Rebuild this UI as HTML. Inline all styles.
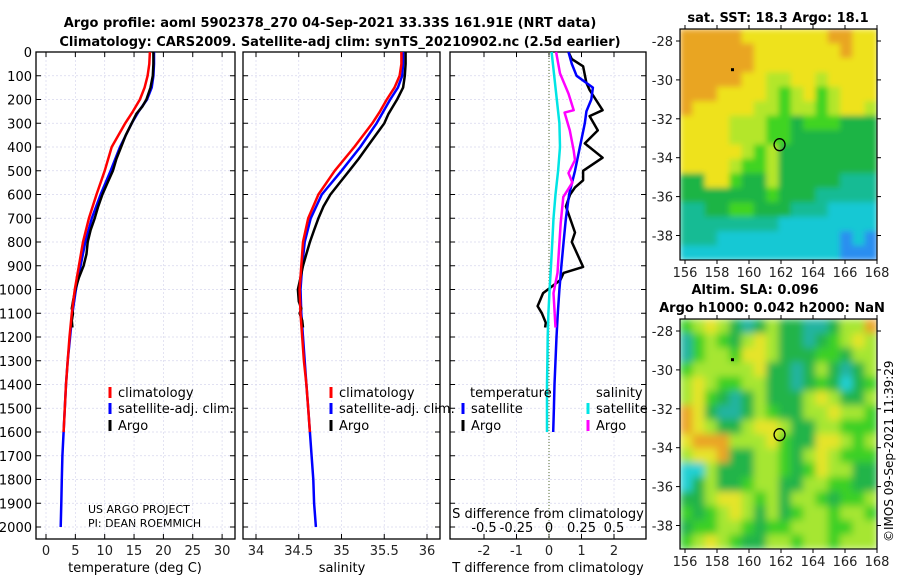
<!DOCTYPE html>
<html><head><meta charset="utf-8"><style>
html,body{margin:0;padding:0;background:#fff;}
svg{display:block;font-family:"DejaVu Sans","Liberation Sans",sans-serif;}
</style></head><body>
<svg id="s" width="900" height="580" xmlns="http://www.w3.org/2000/svg">
<defs>
<filter id="blur1" x="-5%" y="-5%" width="110%" height="110%"><feGaussianBlur stdDeviation="3" edgeMode="duplicate"/></filter>
<filter id="blur2" x="-5%" y="-5%" width="110%" height="110%"><feGaussianBlur stdDeviation="4" edgeMode="duplicate"/></filter>
<clipPath id="clip1"><rect x="680" y="29" width="197" height="231"/></clipPath>
<clipPath id="clip2"><rect x="680" y="319" width="197" height="230"/></clipPath>
</defs>
<text x="330" y="27" text-anchor="middle" font-size="13" font-weight="bold">Argo profile: aoml 5902378_270 04-Sep-2021 33.33S 161.91E (NRT data)</text>
<text x="340" y="46" text-anchor="middle" font-size="13" font-weight="bold">Climatology: CARS2009. Satellite-adj clim: synTS_20210902.nc (2.5d earlier)</text>
<text x="778" y="22" text-anchor="middle" font-size="13" font-weight="bold">sat. SST: 18.3 Argo: 18.1</text>
<text x="755" y="294" text-anchor="middle" font-size="13" font-weight="bold">Altim. SLA: 0.096</text>
<text x="772" y="312" text-anchor="middle" font-size="13" font-weight="bold">Argo h1000: 0.042 h2000: NaN</text>
<text transform="translate(893,542) rotate(-90)" font-size="12">©IMOS 09-Sep-2021 11:39:29</text>
<text x="88" y="513" font-size="11">US ARGO PROJECT</text>
<text x="88" y="527" font-size="11">PI: DEAN ROEMMICH</text>
</svg>
<script>
// ---- data ----
const depths = [0,50,100,150,200,250,300,400,500,600,700,800,900,1000,1100,1200,1300,1400,1500,1600,1700,1800,1900,2000];
const tClim = [17.7,17.6,17.3,16.8,16.0,14.8,13.5,11.2,10.0,8.6,7.3,6.3,5.6,4.9,4.4,4.0,3.7,3.4,3.2,3.0];
const tSat = [18.4,18.4,18.3,18.0,17.2,15.8,14.6,12.6,11.0,9.3,7.8,6.7,5.9,5.1,4.5,4.1,3.7,3.4,3.2,3.0,2.8,2.7,2.6,2.5];
const argoDepths = [0,50,100,150,200,230,260,300,350,400,450,500,550,600,650,700,750,800,850,900,950,1000,1050,1080,1100,1130,1160];
const tArgo = [18.3,18.3,18.2,17.8,17.1,16.4,15.4,14.6,13.6,12.8,12.0,11.4,10.5,9.6,8.9,8.3,7.6,7.1,6.9,6.4,5.6,5.0,4.6,4.4,4.6,4.4,4.5];
const sClim = [35.70,35.70,35.68,35.62,35.53,35.45,35.36,35.15,34.92,34.73,34.61,34.55,34.53,34.51,34.52,34.54,34.56,34.59,34.61,34.63];
const sSat = [35.72,35.72,35.71,35.66,35.57,35.49,35.41,35.22,35.0,34.77,34.64,34.57,34.54,34.52,34.53,34.55,34.57,34.59,34.61,34.63,34.65,34.67,34.68,34.70];
const sArgo = [35.75,35.75,35.74,35.72,35.65,35.6,35.55,35.5,35.4,35.3,35.2,35.09,34.98,34.87,34.79,34.73,34.68,34.63,34.59,34.55,34.52,34.49,34.50,34.53,34.51,34.54,34.55];
const dTSat = [0.6,0.7,0.85,1.35,1.3,1.15,1.1,0.95,0.8,0.62,0.52,0.45,0.38,0.32,0.27,0.23,0.2,0.17,0.15,0.13];
const dSSat = [0.02,0.03,0.04,0.05,0.06,0.07,0.08,0.085,0.07,0.05,0.035,0.025,0.015,0.005,-0.005,-0.01,-0.012,-0.015,-0.015,-0.015];
const dTArgoDepths = [0,30,60,130,160,245,270,330,385,445,500,540,570,600,650,760,800,905,930,960,1015,1070,1100,1140,1160];
const dTArgo = [0.6,0.7,1.05,1.15,1.25,1.65,1.25,1.5,1.1,1.65,1.05,1.05,0.8,0.65,0.52,0.8,0.7,1.05,0.45,0.35,-0.18,-0.35,-0.22,-0.1,-0.12];
const dSArgoDepths = [0,90,175,245,255,330,415,455,510,550,610,720,930,1015,1160];
const dSArgo = [0.055,0.085,0.15,0.19,0.12,0.16,0.19,0.2,0.15,0.18,0.11,0.09,0.065,0.035,0.05];
const depthTicks = [0,100,200,300,400,500,600,700,800,900,1000,1100,1200,1300,1400,1500,1600,1700,1800,1900,2000];
const tTicks = [0,5,10,15,20,25,30];
const sTicks = [34,34.5,35,35.5,36];
const sTickLabels = ['34','34.5','35','35.5','36'];
const dtTicks = [-2,-1,0,1,2];
const dsTicks = [-0.5,-0.25,0,0.25,0.5];
const dsTickLabels = ['-0.5','-0.25','0','0.25','0.5'];
const lonTicks = [156,158,160,162,164,166,168];
const latTicks = [-28,-30,-32,-34,-36,-38];
const sstGrid = [
"OOOOOYYYYYYYOOYY","OOOOOOYYYYYYYOYY","OOOOOOYYYYYYYYYY","OOOOOYYLLYYLYYYY",
"OOOYYYYLGLYGLYYY","OYYYYYLLGLLGLYYL","YYYYLLLGGDGGGDDD","YYYYLLLGGDDDDDDD",
"YYYYYLGLDDDDDDDD","YYYYLGGLDDDDDDDD","DDYYGDDLDDDDDTTT","DDDDDDDGDDDTTTTT",
"TTDDGGDDDTTTCCCC","TTTTTTTTCCCCCCCC","TTTCCCCCCCCCCBCB","CCCCCCCCCCCCCBBB"];
const slaGrid = [
"GLYLDTDLDDTTDLLO","TGLGDLYLDDTDGLYL","TGLLGYYLDDDGGDLL","GLLLLLYDDTDLDTDL",
"LYLGGLLDDTDGDCDG","LYGDTDLDDDLYLDDL","OYDTTDLGDDLLYLLG","OYLDDLYYLDDLLGGG",
"YOOOLLLYGDDYYLGL","LYYODDLLGDLYLGGG","CCLDDDLLGDGYLLDD","CDLDDGLLDDLLGGDD",
"DDLYYLGLDLLGDGGL","GDGLYLDLDGLLGLLG","DGGLLGDGGLLLGGLL","GLYLGDDLLGLLGLLL"];

// ---- helpers ----
const NS='http://www.w3.org/2000/svg';
const svg=document.getElementById('s');
function mk(tag,attrs,parent){const e=document.createElementNS(NS,tag);for(const k in attrs)e.setAttribute(k,attrs[k]);(parent||svg).appendChild(e);return e;}
const Y0=52, YS=0.2375;
function yD(d){return Y0+d*YS;}
const TOP=52, BOT=539;

const panels=[
 {name:'temperature-panel',l:36,r:235,x:v=>46+v*5.87,ticks:tTicks,labels:tTicks.map(String),xlabel:'temperature (deg C)',lx:135},
 {name:'salinity-panel',l:243,r:440,x:v=>256+(v-34)*85.5,ticks:sTicks,labels:sTickLabels,xlabel:'salinity',lx:342},
 {name:'difference-panel',l:450,r:646,x:v=>549+v*32.5,ticks:dtTicks,labels:dtTicks.map(String),xlabel:'T difference from climatology',lx:548}
];
panels.forEach((p,pi)=>{
  const g=mk('g',{});
  
  
  depthTicks.forEach(d=>{
    const ln=mk('line',{x1:p.l,x2:p.r,y1:yD(d),y2:yD(d),stroke:'#d8d8ee','stroke-width':0.7,'stroke-dasharray':'2,2'},g);
    
    
    mk('line',{x1:p.l,x2:p.l+5,y1:yD(d),y2:yD(d),stroke:'#000'},g);
    mk('line',{x1:p.r,x2:p.r-5,y1:yD(d),y2:yD(d),stroke:'#000'},g);
    if(pi===0){const t=mk('text',{x:32,y:yD(d)+5,'text-anchor':'end','font-size':13},g);t.textContent=d;
      
      }
  });
  p.ticks.forEach((v,i)=>{
    const x=p.x(v);
    const ln=mk('line',{x1:x,x2:x,y1:TOP,y2:BOT,stroke:'#d8d8ee','stroke-width':0.7,'stroke-dasharray':'2,2'},g);
    
    
    mk('line',{x1:x,x2:x,y1:BOT,y2:BOT-5,stroke:'#000'},g);
    mk('line',{x1:x,x2:x,y1:TOP,y2:TOP+5,stroke:'#000'},g);
    const t=mk('text',{x:x,y:555,'text-anchor':'middle','font-size':13,fill:'#222'},g);t.textContent=p.labels[i];
    
    
  });
  const xl=mk('text',{x:p.lx,y:572,'text-anchor':'middle','font-size':13},g);xl.textContent=p.xlabel;
  
  
  const fr=mk('rect',{x:p.l,y:TOP,width:p.r-p.l,height:BOT-TOP,fill:'none',stroke:'#000','stroke-width':1.3},g);
  
  
});
const sdx=v=>549+v*130;
dsTicks.forEach((v,i)=>{const t=mk('text',{x:sdx(v),y:532,'text-anchor':'middle','font-size':13},svg);t.textContent=dsTickLabels[i];
  
  });
{const t=mk('text',{x:548,y:518,'text-anchor':'middle','font-size':13});t.textContent='S difference from climatology';
 
 }
{const z=mk('line',{x1:549,x2:549,y1:TOP,y2:BOT,stroke:'#556b2f','stroke-width':1,'stroke-dasharray':'1,2'});
 
 }

function line(xs,ds,xf,color,name){
  const pts=xs.map((v,i)=>xf(v).toFixed(1)+','+yD(ds[i]).toFixed(1)).join(' ');
  const pl=mk('polyline',{points:pts,fill:'none',stroke:color,'stroke-width':2.5,'stroke-linejoin':'round'});
  
  
}
const tx=panels[0].x, sx=panels[1].x, dx=panels[2].x;
line(tSat,depths,tx,'#0000ff','temp-satellite-line');
line(tArgo,argoDepths,tx,'#000','temp-argo-line');
line(tClim,depths,tx,'#ff0000','temp-climatology-line');
line(sSat,depths,sx,'#0000ff','salinity-satellite-line');
line(sArgo,argoDepths,sx,'#000','salinity-argo-line');
line(sClim,depths,sx,'#ff0000','salinity-climatology-line');
line(dTArgo,dTArgoDepths,dx,'#000','tdiff-argo-line');
line(dTSat,depths,dx,'#0000ff','tdiff-satellite-line');
line(dSArgo,dSArgoDepths,sdx,'#ff00ff','sdiff-argo-line');
line(dSSat,depths,sdx,'#00e5e5','sdiff-satellite-line');

function legend(x,y,color,label,name){
  const g=mk('g',{});
  
  
  mk('rect',{x:x-1.5,y:y-9,width:3,height:11,fill:color},g);
  const t=mk('text',{x:x+8,y:y+1,'font-size':13},g);t.textContent=label;
}
legend(110,396,'#ff0000','climatology','legend-climatology');
legend(110,412,'#0000ff','satellite-adj. clim.','legend-satellite');
legend(110,429,'#000','Argo','legend-argo');
legend(331,396,'#ff0000','climatology','legend-climatology-s');
legend(331,412,'#0000ff','satellite-adj. clim.','legend-satellite-s');
legend(331,429,'#000','Argo','legend-argo-s');
{const t=mk('text',{x:470,y:397,'font-size':13});t.textContent='temperature';
 
 }
{const t=mk('text',{x:596,y:397,'font-size':13});t.textContent='salinity';
 
 }
legend(463,412,'#0000ff','satellite','legend-tdiff-satellite');
legend(463,429,'#000','Argo','legend-tdiff-argo');
legend(588,412,'#00e5e5','satellite','legend-sdiff-satellite');
legend(588,429,'#ff00ff','Argo','legend-sdiff-argo');

// ---- maps ----
const pal={O:'#e9a524',Y:'#eee21e',L:'#b4e62c',G:'#3fd424',D:'#1fb445',T:'#14bb94',C:'#18c8d4',B:'#2a8ef0'};
const pal2={O:'#eaa428',Y:'#e6e42a',L:'#a6e630',G:'#3ad028',D:'#22b44a',T:'#22b4a0',C:'#22d0d4'};
function map(name,top,bottom,lat28,grid,p,clip,filt){
  const L=680,R=877;
  const g=mk('g',{});
  
  
  const cg=mk('g',{'clip-path':'url(#'+clip+')'},g);
  const fg=mk('g',{filter:'url(#'+filt+')'},cg);
  const nr=grid.length,nc=grid[0].length,cw=(R-L)/nc,ch=(bottom-top)/nr;
  grid.forEach((row,r)=>{for(let c=0;c<nc;c++)mk('rect',{x:L+c*cw,y:top+r*ch,width:cw+0.6,height:ch+0.6,fill:p[row[c]]},fg);});
  const lx=v=>685+(v-156)*16, ly=v=>lat28+(-28-v)*19.45;
  lonTicks.forEach(v=>{const x=lx(v);mk('line',{x1:x,x2:x,y1:bottom,y2:bottom+4,stroke:'#000'},g);mk('line',{x1:x,x2:x,y1:top,y2:top-4,stroke:'#000'},g);
    const t=mk('text',{x:x,y:bottom+17,'text-anchor':'middle','font-size':13,fill:'#222'},g);t.textContent=v;
    
    });
  latTicks.forEach(v=>{const y=ly(v);mk('line',{x1:L,x2:L-4,y1:y,y2:y,stroke:'#000'},g);mk('line',{x1:R,x2:R+4,y1:y,y2:y,stroke:'#000'},g);
    const t=mk('text',{x:673,y:y+5,'text-anchor':'end','font-size':13,fill:'#222'},g);t.textContent=v;
    
    });
  mk('rect',{x:L,y:top,width:R-L,height:bottom-top,fill:'none',stroke:'#000','stroke-width':1.2},g);
  const ci=mk('ellipse',{cx:lx(161.91),cy:ly(-33.33),rx:5.5,ry:6,fill:'none',stroke:'#000','stroke-width':1.3},g);
  
  
  mk('rect',{x:lx(159)-2,y:ly(-29.5)-2,width:3,height:3,fill:'#000'},g);
}
map('sst-map',29,260,41,sstGrid,pal,'clip1','blur1');
map('sla-map',319,549,331,slaGrid,pal2,'clip2','blur2');
</script>
</body></html>
